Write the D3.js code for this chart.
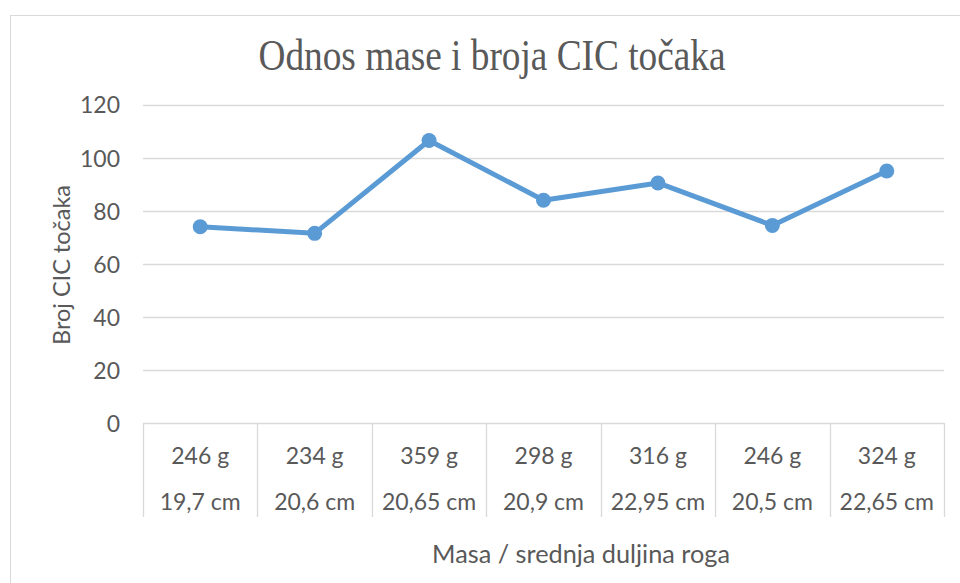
<!DOCTYPE html>
<html><head><meta charset="utf-8">
<script src="https://cdn.jsdelivr.net/npm/d3@7"></script>
<style>body{margin:0;background:#fff}svg{display:block}</style>
</head><body>
<svg id="c" width="960" height="583"></svg>
<script>
const masses = ["246 g","234 g","359 g","298 g","316 g","246 g","324 g"];
const lengths = ["19,7 cm","20,6 cm","20,65 cm","20,9 cm","22,95 cm","20,5 cm","22,65 cm"];
const cicCounts = [74, 71.5, 106.5, 84, 90.5, 74.5, 95];
const yTicks = [0,20,40,60,80,100,120];
const title = "Odnos mase i broja CIC točaka";
const yTitle = "Broj CIC točaka";
const xTitle = "Masa / srednja duljina roga";

const svg = d3.select("#c");
const labelFont = "Lato, 'Open Sans', sans-serif";
const grey = "#595959", grid = "#D9D9D9", blue = "#5B9BD5";

// size a text element so its width matches a target
function fitWidth(sel, target){
  sel.attr("font-size",100);
  const w = sel.node().getComputedTextLength();
  sel.attr("font-size", 100*target/w);
}

svg.append("rect").attr("x",10.5).attr("y",15.5).attr("width",980).attr("height",620)
  .attr("fill","#fff").attr("stroke",grid).attr("stroke-width",1);

const pLeft = 143, pRight = 944, pTop = 104.7, pBottom = 423;
const idx = masses.map((d,i)=>i);
const x = d3.scaleBand().domain(idx).range([pLeft,pRight]);
const y = d3.scaleLinear().domain([0,120]).range([pBottom,pTop]);

// gridlines
svg.append("g").selectAll("line").data(yTicks.filter(t=>t>0)).join("line")
  .attr("x1",pLeft).attr("x2",pRight)
  .attr("y1",d=>Math.round(y(d))+0.5).attr("y2",d=>Math.round(y(d))+0.5)
  .attr("stroke",grid).attr("stroke-width",1.3);

// y axis labels
const yAxis = d3.axisLeft(y).tickValues(yTicks).tickSize(0).tickPadding(0);
const gy = svg.append("g").attr("transform",`translate(120,0)`).call(yAxis);
gy.select(".domain").remove();
gy.selectAll("text").attr("font-family",labelFont).attr("font-size",23).attr("fill",grey).attr("dy","0.36em");

// x axis line and separators
svg.append("line").attr("x1",pLeft).attr("x2",pRight).attr("y1",Math.round(pBottom)+0.5).attr("y2",Math.round(pBottom)+0.5)
  .attr("stroke",grid).attr("stroke-width",1.3);
const bounds = idx.map(i=>x(i)).concat([pRight]);
svg.append("g").selectAll("line").data(bounds).join("line")
  .attr("x1",d=>Math.round(d)+0.5).attr("x2",d=>Math.round(d)+0.5)
  .attr("y1",pBottom).attr("y2",517).attr("stroke",grid).attr("stroke-width",1.3);

const xa = svg.append("g");
xa.selectAll("text.m").data(idx).join("text").attr("class","m")
  .attr("x",i=>x(i)+x.bandwidth()/2).attr("y",463.5)
  .attr("text-anchor","middle").attr("font-family",labelFont).attr("font-size",23).attr("fill",grey)
  .text(i=>masses[i]);
xa.selectAll("text.l").data(idx).join("text").attr("class","l")
  .attr("x",i=>x(i)+x.bandwidth()/2).attr("y",510)
  .attr("text-anchor","middle").attr("font-family",labelFont).attr("font-size",23).attr("fill",grey)
  .text(i=>lengths[i]);

// line
const line = d3.line().x((d,i)=>x(i)+x.bandwidth()/2).y(d=>y(d));
svg.append("path").datum(cicCounts).attr("d",line).attr("fill","none")
  .attr("stroke",blue).attr("stroke-width",5).attr("stroke-linejoin","round").attr("stroke-linecap","round");
svg.append("g").selectAll("circle").data(cicCounts).join("circle")
  .attr("cx",(d,i)=>x(i)+x.bandwidth()/2).attr("cy",d=>y(d)).attr("r",7.5).attr("fill",blue);

// titles
svg.append("text").attr("x",492).attr("y",70).attr("text-anchor","middle")
  .attr("font-family","'Liberation Serif','Times New Roman',serif").attr("font-size",44)
  .attr("textLength",467).attr("lengthAdjust","spacingAndGlyphs").attr("fill",grey).text(title);
const yt = svg.append("text").attr("transform","translate(70,265) rotate(-90)").attr("text-anchor","middle")
  .attr("font-family",labelFont).attr("fill",grey).text(yTitle);
fitWidth(yt,160);
const xt = svg.append("text").attr("x",581).attr("y",563).attr("text-anchor","middle")
  .attr("font-family",labelFont).attr("fill",grey).text(xTitle);
fitWidth(xt,298);
</script>
</body></html>
